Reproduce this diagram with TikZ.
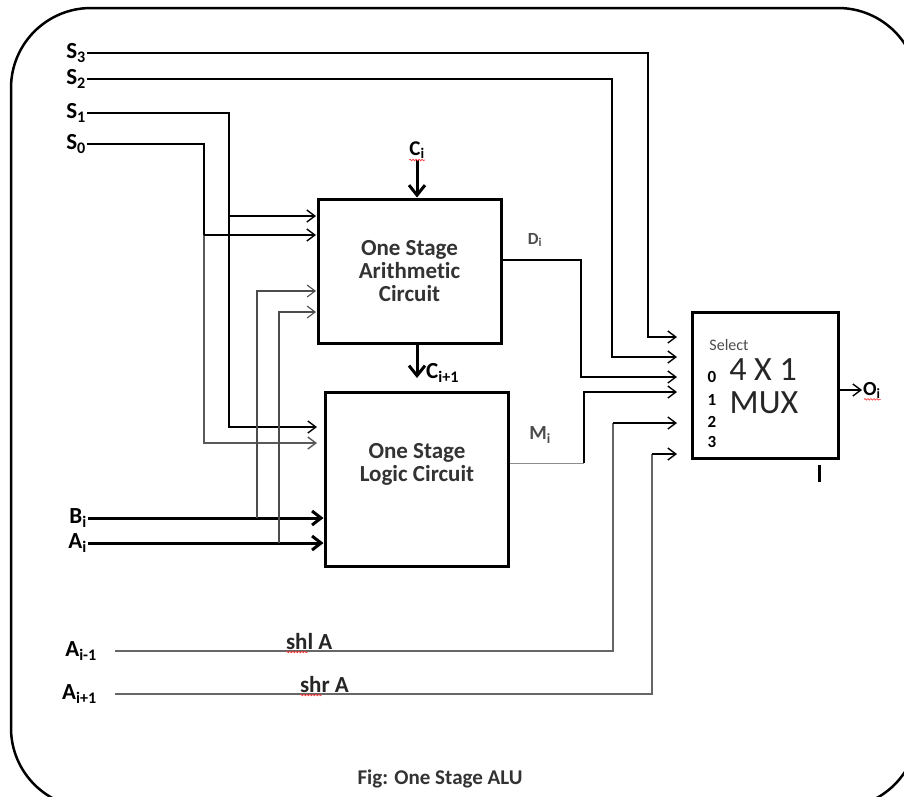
\documentclass[tikz,border=0pt]{standalone}
\usepackage{fontspec}
\setmainfont{Carlito}[Ligatures=NoCommon]
\usetikzlibrary{arrows.meta,positioning,decorations.pathmorphing}

\begin{document}
\begin{tikzpicture}[x=1pt,y=-1pt,>={Straight Barb[length=8pt,width=12pt]},node distance=2pt]
  \tikzstyle{box}=[draw,line width=3pt,inner sep=0pt]
  \tikzstyle{boxtext}=[align=center,text=black!80,font=\fontsize{23}{23}\selectfont\bfseries]
  \tikzstyle{muxtext}=[inner sep=0pt,text=black!85,font=\fontsize{34}{34}\selectfont]
  \tikzstyle{sig}=[inner sep=1pt,font=\fontsize{23}{26}\selectfont\bfseries]
  \tikzstyle{lbl}=[inner sep=1pt,text=black!70,font=\fontsize{17}{19}\selectfont\bfseries]
  \tikzstyle{wire}=[line width=1.4pt]
  \tikzstyle{thinwire}=[line width=1.1pt,black!70]
  \tikzstyle{bus}=[line width=3pt,-{Straight Barb[length=9pt,width=14pt]}]
  \tikzstyle{shiftline}=[line width=2.2pt,black!60]
  \tikzstyle{carry}=[line width=3pt,-{Straight Barb[length=10pt,width=16pt]}]
  \tikzstyle{spell}=[red!80,line width=0.6pt,decorate,decoration={snake,amplitude=0.8pt,segment length=3pt}]

  \path[use as bounding box,fill=white] (0,0) rectangle (904,796);
  \clip (0,0) rectangle (904,796);
  \draw[line width=2.5pt,rounded corners=80pt] (11,8) rectangle (918,808);

  \node[box,boxtext,minimum width=183pt,minimum height=144pt] (arith) at (409.5,271) {One Stage\\Arithmetic\\Circuit};
  \node[box,minimum width=183pt,minimum height=174pt] (logic) at (416.5,479) {};
  \node[boxtext] (logictext) at (417,464) {One Stage\\Logic Circuit};
  \node[box,minimum width=146pt,minimum height=146pt] (mux) at (765,385) {};

  \node[inner sep=0pt,text=black!70,font=\fontsize{16}{16}\selectfont] (seltext) at (729,345) {Select};
  \node[muxtext] (muxsize) at (763,370) {4 X 1};
  \node[muxtext] (muxname) at (764,403) {MUX};
  \foreach \d/\y in {0/377,1/400,2/422,3/442}
    \node[inner sep=0pt,font=\fontsize{17}{17}\selectfont\bfseries] (num\d) at (712,\y) {\d};
  \draw[line width=3pt] ([xshift=54pt,yshift=-5pt]mux.south) -- ++(0,17);

  \coordinate (ar1) at (316,216);
  \coordinate (ar0) at (316,235);
  \coordinate (arb) at (316,291);
  \coordinate (ara) at (316,312);
  \coordinate (lg1) at (317,427);
  \coordinate (lg0) at (317,443);
  \coordinate (sel3) at (677,337);
  \coordinate (sel2) at (677,357);
  \coordinate (in0) at (677,377);
  \coordinate (in1) at (677,392);
  \coordinate (in2) at (677,423);
  \coordinate (in3) at (677,454);

  \node[sig,anchor=east] (s3) at (87,53) {S\textsubscript{3}};
  \node[sig,anchor=east] (s2) at (87,79) {S\textsubscript{2}};
  \node[sig,anchor=east] (s1) at (87,113) {S\textsubscript{1}};
  \node[sig,anchor=east] (s0) at (87,144) {S\textsubscript{0}};
  \node[sig,anchor=east] (bi) at (88,518) {B\textsubscript{i}};
  \node[sig,anchor=east] (ai) at (88,543) {A\textsubscript{i}};
  \node[sig,anchor=east] (am) at (98,651) {A\textsubscript{i-1}};
  \node[sig,anchor=east] (ap) at (98,694) {A\textsubscript{i+1}};

  \draw[wire,->] (s3.east) -| ([xshift=-29pt]sel3) -- (sel3);
  \draw[wire,->] (s2.east) -| ([xshift=-65pt]sel2) -- (sel2);
  \coordinate (j1) at (229,216);
  \coordinate (j0) at (204,235);
  \draw[wire,->] (s1.east) -| (j1 |- lg1) -- (lg1);
  \draw[wire,->] (j1) -- (ar1);
  \draw[wire] (s0.east) -| (j0);
  \draw[wire,black!65,->] (j0) |- (lg0);
  \draw[wire,->] (j0) -- (ar0);

  \coordinate (jb) at (257,291);
  \coordinate (ja) at (279,312);
  \draw[bus] (bi.east) -- (bi.east -| logic.west);
  \draw[bus] (ai.east) -- (ai.east -| logic.west);
  \draw[thinwire,->] (jb |- bi.east) -- (jb) -- (arb);
  \draw[thinwire,->] (ja |- ai.east) -- (ja) -- (ara);

  \coordinate (cin) at (417,160);
  \coordinate (cout) at (417,378);
  \node[sig,font=\fontsize{21}{23}\selectfont\bfseries,above=0pt of cin] (ci) {C\textsubscript{i}};
  \draw[carry] (cin) -- (arith.north -| cin);
  \draw[carry] (arith.south -| cout) -- (cout);
  \node[sig,right=8pt of cout,yshift=5pt] (cnext) {C\textsubscript{i+1}};

  \coordinate (dturn) at (581,260);
  \draw[wire,->] (arith.east |- dturn) -- (dturn) |- (in0);
  \node[lbl] (dlabel) at (535,240) {D\textsubscript{i}};
  \coordinate (mturn) at (584,463);
  \draw[line width=0.8pt,black!45] (logic.east |- mturn) -- (mturn);
  \draw[wire,->] (mturn) |- (in1);
  \node[lbl,font=\fontsize{20}{22}\selectfont\bfseries] (mlabel) at (540,435) {M\textsubscript{i}};

  \coordinate (shlturn) at (613,651);
  \coordinate (shrturn) at (652,694);
  \draw[shiftline] ([xshift=17pt]am.east) -- node[pos=0.39,above=-1pt,sig,text=black!85] (shl) {shl A} (shlturn) -- (shlturn |- in2);
  \draw[wire,->] (shlturn |- in2) -- (in2);
  \draw[shiftline] ([xshift=17pt]ap.east) -- node[pos=0.39,above=-1pt,sig,text=black!85] (shr) {shr A} (shrturn) -- (shrturn |- in3);
  \draw[wire,->] (shrturn |- in3) -- (in3);

  \coordinate (oend) at (862,390);
  \draw[wire,->] (mux.east |- oend) -- (oend);
  \node[sig,font=\fontsize{20}{22}\selectfont\bfseries,right=0pt of oend] (oi) {O\textsubscript{i}};

  \node[font=\fontsize{21}{21}\selectfont\bfseries,text=black!80] (caption) at (440,779) {Fig: One Stage ALU};

  \draw[spell] ([xshift=1pt]ci.south west) -- ([xshift=-1pt]ci.south east);
  \draw[spell] ([xshift=2pt]shl.south west) -- ++(22,0);
  \draw[spell] ([xshift=2pt]shr.south west) -- ++(22,0);
  \draw[spell] ([xshift=2pt]oi.south west) -- ([xshift=-1pt]oi.south east);
\end{tikzpicture}
\end{document}
